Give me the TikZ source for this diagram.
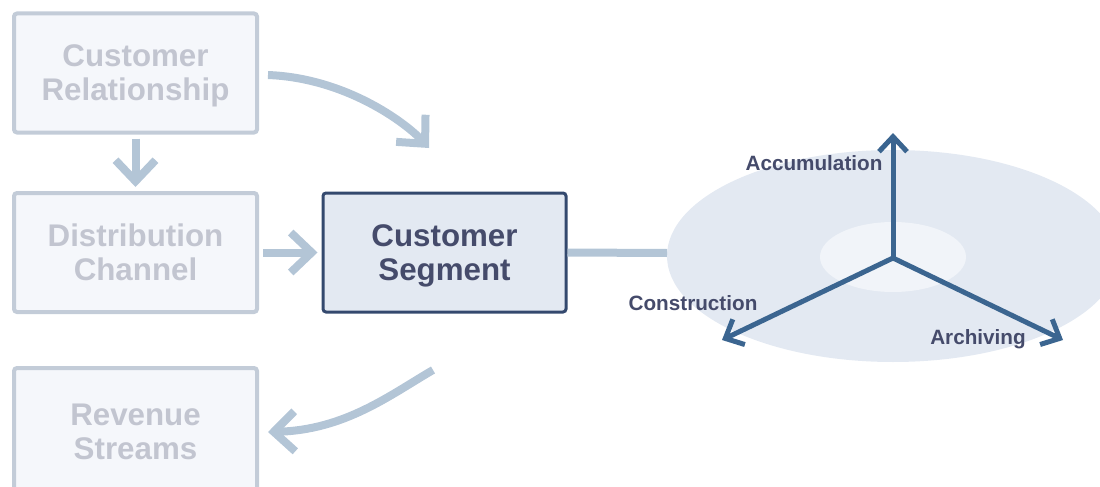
\documentclass[tikz,border=0pt]{standalone}
\usepackage{fontspec}
\setmainfont{Liberation Sans}
\usetikzlibrary{arrows.meta}

\definecolor{paleFill}{HTML}{F5F7FB}
\definecolor{paleLine}{HTML}{C3CCD8}
\definecolor{paleText}{HTML}{C2C5D0}
\definecolor{segFill}{HTML}{E3E9F2}
\definecolor{segLine}{HTML}{34496E}
\definecolor{segText}{HTML}{454B6B}
\definecolor{flowBlue}{HTML}{B3C5D6}
\definecolor{axisBlue}{HTML}{3B6590}
\definecolor{diskFill}{HTML}{E3E9F2}
\definecolor{diskCore}{HTML}{F1F4F9}

\tikzset{
  block/.style={rectangle, rounded corners=3pt, minimum width=243pt, minimum height=119pt,
    align=center, inner sep=0pt, text depth=0pt, font=\fontsize{31.3}{34}\selectfont\bfseries},
  pale/.style={block, draw=paleLine, fill=paleFill, text=paleText, line width=4pt},
  focus/.style={block, draw=segLine, fill=segFill, text=segText, line width=3pt},
  flowarrow/.style={draw=flowBlue, line width=8pt, -{Straight Barb[length=21pt,width=40pt]}},
  axisarrow/.style={draw=axisBlue, line width=5pt, -{Straight Barb[length=15pt,width=28pt]}},
  axislabel/.style={text=segText, inner sep=0pt, font=\fontsize{20.7}{24}\selectfont\bfseries}
}

\begin{document}
\begin{tikzpicture}[x=1pt,y=-1pt]
  \useasboundingbox (0,0) rectangle (1100,487);
  \clip (0,0) rectangle (1100,487);

  % disk under the three axes
  \fill[diskFill] (893,256) ellipse [x radius=226pt, y radius=106pt];
  \fill[diskCore] (893,257) ellipse [x radius=73pt, y radius=35pt];

  % boxes
  \node[pale] (cr) at (135.5,73) {Customer\\Relationship};
  \node[pale] (dc) at (135.5,252.5) {Distribution\\Channel};
  \node[pale, minimum height=128pt] (rs) at (135.5,432) {Revenue\\Streams};
  \node[focus] (cs) at (444.5,252.5) {Customer\\Segment};

  % flows between the boxes
  \coordinate (crOut) at (268,75);
  \coordinate (csIn) at (429,148);
  \coordinate (csOut) at (433,370);
  \coordinate (rsIn) at (268,432);
  \coordinate (rim) at (667,253);
  \draw[flowarrow, shorten <=4pt, shorten >=4pt] (cr.south) -- (dc.north);
  \draw[flowarrow, shorten <=4pt, shorten >=4pt] (dc.east) -- (cs.west);
  \draw[flowarrow] (crOut) .. controls (345,78) and (405,122) .. (csIn);
  \draw[flowarrow] (csOut) .. controls (390,395) and (345,430) .. (rsIn);
  \draw[draw=flowBlue, line width=8pt] (cs.east) -- (rim);

  % axes
  \coordinate (o) at (893,258);
  \coordinate (accTip) at (893,133);
  \coordinate (conTip) at (722,340);
  \coordinate (arcTip) at (1063,340);
  \draw[axisarrow] (o) -- (accTip);
  \draw[axisarrow] (o) -- (conTip);
  \draw[axisarrow] (o) -- (arcTip);
  \node[axislabel] (accLbl) at (814,163) {Accumulation};
  \node[axislabel] (conLbl) at (693,303) {Construction};
  \node[axislabel] (arcLbl) at (978,339) {Archiving};
\end{tikzpicture}
\end{document}
